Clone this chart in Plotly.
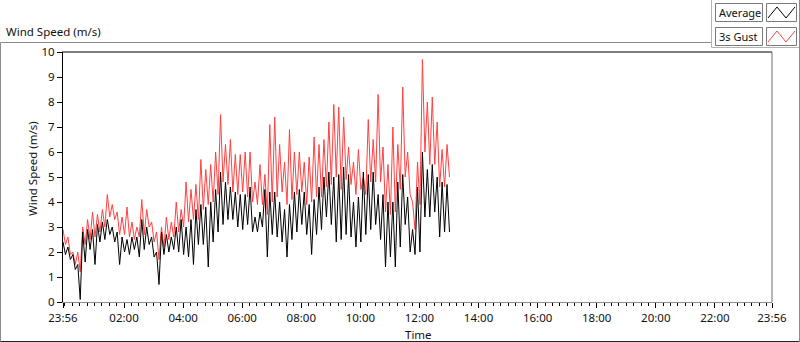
import numpy as np
import pandas as pd
import plotly.graph_objects as go

# ---- data (5-minute samples from 23:56) ----
start_time = "2024-01-01 23:56"
step_minutes = 5

average = [
    2.4, 1.9, 2.2, 1.7, 1.9, 1.3, 1.5, 0.1, 2.8, 1.6,
    2.9, 2.1, 2.9, 1.5, 3.1, 2.4, 3.2, 2.5, 3.3, 2.7,
    3.0, 2.4, 2.8, 1.5, 2.6, 2.0, 2.5, 1.9, 2.6, 2.1,
    2.6, 1.8, 3.3, 2.1, 3.0, 2.3, 2.6, 1.8, 2.0, 0.7,
    2.8, 1.9, 2.7, 2.0, 2.6, 2.1, 3.0, 2.0, 3.3, 1.9,
    3.0, 1.8, 3.3, 1.5, 3.7, 2.3, 3.9, 2.3, 3.8, 1.4,
    4.0, 2.4, 4.5, 2.8, 5.2, 3.1, 4.8, 3.3, 4.6, 3.3,
    4.4, 3.0, 4.3, 2.9, 4.3, 3.1, 4.6, 2.8, 3.4, 2.8,
    3.6, 3.0, 4.5, 1.8, 4.4, 2.7, 4.4, 2.6, 4.0, 2.4,
    3.7, 1.8, 3.9, 2.5, 4.4, 2.8, 4.5, 3.1, 4.4, 2.7,
    3.9, 1.9, 4.1, 2.7, 4.6, 2.9, 5.0, 3.4, 5.2, 3.1,
    5.0, 2.4, 5.1, 2.5, 5.4, 2.7, 5.1, 2.6, 4.0, 2.2,
    4.2, 2.4, 5.2, 2.7, 5.1, 2.9, 5.2, 3.1, 4.3, 2.5,
    4.3, 1.4, 4.0, 1.8, 4.0, 1.4, 4.8, 2.2, 5.1, 3.1,
    4.2, 2.0, 2.9, 1.9, 4.6, 2.0, 6.0, 3.4, 5.3, 3.4,
    5.5, 3.6, 5.0, 2.6, 4.8, 2.8, 4.7, 2.8,
]

gust_3s = [
    2.9, 2.3, 2.6, 1.9, 2.0, 1.5, 2.0, 1.2, 3.0, 2.3,
    3.3, 2.5, 3.6, 2.6, 3.5, 2.8, 3.7, 3.0, 4.3, 3.4,
    3.9, 3.3, 3.6, 2.7, 3.4, 2.7, 3.8, 2.6, 3.2, 2.5,
    3.0, 2.6, 4.1, 2.7, 3.7, 3.0, 3.2, 2.4, 2.8, 1.7,
    3.0, 2.2, 3.4, 2.5, 3.2, 2.6, 4.0, 2.8, 3.7, 3.0,
    4.8, 3.2, 4.5, 3.3, 4.7, 3.3, 5.7, 3.7, 5.3, 3.9,
    5.5, 4.0, 6.0, 4.3, 7.5, 4.8, 6.3, 4.7, 6.5, 4.4,
    5.9, 4.3, 5.9, 4.4, 6.0, 4.2, 6.0, 4.0, 4.8, 3.9,
    5.5, 3.9, 5.1, 3.5, 7.1, 4.0, 7.4, 4.2, 6.3, 4.4,
    5.6, 3.9, 6.9, 4.1, 6.0, 4.3, 6.0, 4.4, 5.6, 3.9,
    5.8, 4.0, 6.6, 4.2, 6.3, 4.2, 6.5, 4.6, 7.2, 4.7,
    7.9, 5.0, 7.8, 4.5, 7.4, 4.9, 6.2, 4.7, 5.6, 4.3,
    6.1, 4.5, 5.0, 4.3, 7.3, 4.8, 6.5, 4.8, 8.3, 4.8,
    6.2, 3.6, 5.5, 3.5, 7.0, 3.6, 6.3, 4.5, 8.6, 5.0,
    6.0, 4.3, 4.0, 2.9, 5.6, 3.9, 9.7, 6.0, 8.0, 5.5,
    8.2, 5.5, 7.2, 4.6, 6.1, 4.6, 6.3, 5.0,
]

y_ticks = [0, 1, 2, 3, 4, 5, 6, 7, 8, 9, 10]
x_tick_times = ["2024-01-01 23:56", "2024-01-02 02:00", "2024-01-02 04:00",
                "2024-01-02 06:00", "2024-01-02 08:00", "2024-01-02 10:00",
                "2024-01-02 12:00", "2024-01-02 14:00", "2024-01-02 16:00",
                "2024-01-02 18:00", "2024-01-02 20:00", "2024-01-02 22:00",
                "2024-01-02 23:56"]
x_tick_labels = ["23:56", "02:00", "04:00", "06:00", "08:00", "10:00", "12:00",
                 "14:00", "16:00", "18:00", "20:00", "22:00", "23:56"]

times = pd.Timestamp(start_time) + pd.to_timedelta(np.arange(len(average)) * step_minutes, unit="min")

# ---- layout geometry (pixels) ----
W, H = 800, 342
L, R, T, B = 63, 28, 52, 40
PW, PH = W - L - R, H - T - B
FONT = "Noto Sans"
FS = 11.5

def px(x):
    return (x - L) / PW

def py(y):
    return (H - B - y) / PH

fig = go.Figure()
fig.add_trace(go.Scatter(x=times, y=gust_3s, mode="lines", name="3s Gust",
                         line=dict(color="#ff4040", width=1), showlegend=False,
                         hoverinfo="skip"))
fig.add_trace(go.Scatter(x=times, y=average, mode="lines", name="Average",
                         line=dict(color="#000000", width=1), showlegend=False,
                         hoverinfo="skip"))

fig.update_layout(
    width=W, height=H,
    margin=dict(l=L, r=R, t=T, b=B, pad=0),
    paper_bgcolor="white", plot_bgcolor="white",
    font=dict(family=FONT, size=FS, color="#111111"),
    showlegend=False,
)

fig.update_xaxes(
    type="date",
    range=[x_tick_times[0], x_tick_times[-1]],
    tickmode="array", tickvals=x_tick_times, ticktext=x_tick_labels,
    ticks="outside", ticklen=5, tickcolor="#000000", tickwidth=1,
    tickfont=dict(family=FONT, size=FS, color="#111111"),
    showgrid=False, zeroline=False,
    showline=True, linecolor="#8a8a8a", linewidth=1,
    minor=dict(tickmode="linear", tick0="2024-01-02 00:00", dtick=15 * 60 * 1000,
               ticks="outside", ticklen=3, tickcolor="#000000", tickwidth=1,
               showgrid=False),
)
fig.update_yaxes(
    range=[0, 10], tickmode="array", tickvals=y_ticks,
    ticks="outside", ticklen=5, tickcolor="#000000", tickwidth=1,
    tickfont=dict(family=FONT, size=FS, color="#111111"),
    showgrid=False, zeroline=False,
    showline=True, linecolor="#000000", linewidth=1,
)

line_shapes = [
    # plot area top (black) and right (grey)
    dict(x0=px(62), x1=1, y0=1, y1=1, color="#000000"),
    dict(x0=1, x1=1, y0=0, y1=1, color="#6f6f6f"),
    # outer panel frame
    dict(x0=px(0.5), x1=px(711.5), y0=py(42.5), y1=py(42.5), color="#8c8c8c"),
    dict(x0=px(0.5), x1=px(0.5), y0=py(42.5), y1=py(341.5), color="#8c8c8c"),
    dict(x0=px(0.5), x1=px(800), y0=py(341.5), y1=py(341.5), color="#222222"),
    dict(x0=px(711.5), x1=px(711.5), y0=py(0), y1=py(47.5), color="#b4b4b4"),
    dict(x0=px(711.5), x1=px(800), y0=py(47.5), y1=py(47.5), color="#b4b4b4"),
    dict(x0=px(799.5), x1=px(799.5), y0=py(0), y1=py(342), color="#8c8c8c"),
]
for s in line_shapes:
    fig.add_shape(type="line", xref="paper", yref="paper",
                  x0=s["x0"], x1=s["x1"], y0=s["y0"], y1=s["y1"],
                  line=dict(color=s["color"], width=1), layer="above")

# legend boxes
legend_rows = [("Average", "#000000", 3), ("3s Gust", "#ff4040", 27)]
for label, color, top in legend_rows:
    fig.add_shape(type="rect", xref="paper", yref="paper",
                  x0=px(715.5), x1=px(762.5), y0=py(top + 18.5), y1=py(top + 0.5),
                  line=dict(color="#7a7a7a", width=1), fillcolor="white")
    fig.add_shape(type="rect", xref="paper", yref="paper",
                  x0=px(766.5), x1=px(796.5), y0=py(top + 18.5), y1=py(top + 0.5),
                  line=dict(color="#7a7a7a", width=1), fillcolor="white")
    fig.add_shape(type="path", xref="paper", yref="paper",
                  path=(f"M {px(768)},{py(top + 15)} L {px(777)},{py(top + 4)} "
                        f"L {px(786)},{py(top + 15)} L {px(795)},{py(top + 4)}"),
                  line=dict(color=color, width=1))
    fig.add_annotation(xref="paper", yref="paper", x=px(717), y=py(top + 9.5),
                       text=label, showarrow=False, xanchor="left", yanchor="middle",
                       font=dict(family=FONT, size=11, color="#111111"))

# titles
fig.add_annotation(xref="paper", yref="paper", x=px(4), y=py(32),
                   text="Wind Speed (m/s)", showarrow=False,
                   xanchor="left", yanchor="middle",
                   font=dict(family=FONT, size=FS, color="#111111"))
fig.add_annotation(xref="paper", yref="paper", x=px(32), y=py(169),
                   text="Wind Speed (m/s)", showarrow=False, textangle=-90,
                   xanchor="center", yanchor="middle",
                   font=dict(family=FONT, size=FS, color="#111111"))
fig.add_annotation(xref="paper", yref="paper", x=px(418), y=py(334),
                   text="Time", showarrow=False,
                   xanchor="center", yanchor="middle",
                   font=dict(family=FONT, size=FS, color="#111111"))

fig.write_html(
    "out.html",
    config={"displayModeBar": False, "staticPlot": True},
    post_script="document.body.style.margin='0';document.body.style.padding='0';",
)
